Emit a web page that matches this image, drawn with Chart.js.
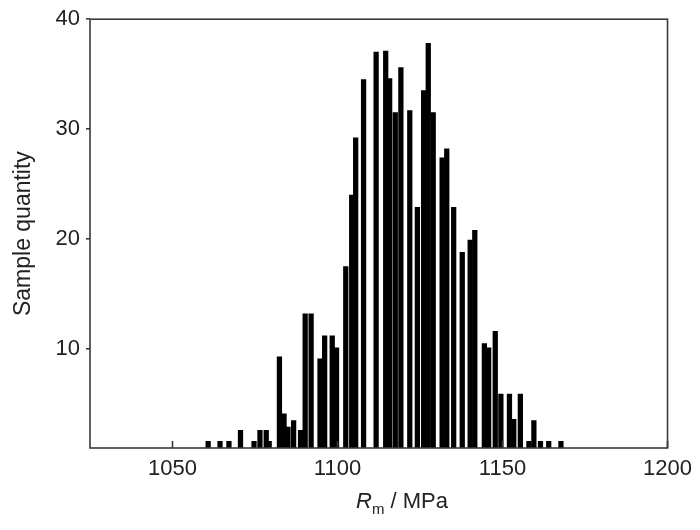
<!DOCTYPE html>
<html>
<head>
<meta charset="utf-8">
<script src="https://cdn.jsdelivr.net/npm/chart.js@4.4.1/dist/chart.umd.min.js"></script>
<style>
html,body{margin:0;padding:0;background:#fff;}
#wrap{width:700px;height:530px;}
</style>
</head>
<body>
<div id="wrap"><canvas id="c" width="700" height="530"></canvas></div>
<script>
// Rm values (MPa) at which bars are drawn
const rmValues = [1060.8,1064.4,1067.1,1070.6,1074.7,1076.5,1078.4,1079.3,1082.4,1083.8,1085.0,1086.7,1088.8,
  1090.2,1092.0,1094.7,1096.1,1098.4,1099.7,1102.5,1104.3,1105.5,1107.9,1111.7,1114.6,1115.8,1117.5,1119.2,
  1121.9,1124.2,1126.1,1127.5,1129.0,1131.7,1133.1,1135.2,1137.8,1140.2,1141.6,1144.5,1145.8,1147.8,1149.5,
  1152.1,1153.4,1155.4,1158.0,1159.5,1161.5,1164.0,1167.7];
// sample quantity for each bar
const sampleCounts = [1.6,1.6,1.6,2.6,1.6,2.6,2.6,1.6,9.3,4.1,2.9,3.5,2.6,
  13.2,13.2,9.1,11.2,11.2,10.1,17.5,24.0,29.2,34.5,37.0,37.1,34.6,31.5,35.6,
  31.7,22.9,33.5,37.8,31.5,27.4,28.2,22.9,18.8,19.9,20.8,10.5,10.1,11.6,5.9,
  5.9,3.6,5.9,1.6,3.5,1.6,1.6,1.6];
const xTicks = [1050,1100,1150,1200];
const yTicks = [10,20,30,40];

const FONT = '"Liberation Sans", Arial, sans-serif';
const INK = '#222';
const AXIS = '#3a3a3a';

const framePlugin = {
  id: 'frame',
  afterDatasetsDraw(chart) {
    const {ctx, chartArea: a, scales} = chart;
    ctx.save();
    ctx.strokeStyle = AXIS;
    ctx.lineWidth = 1.6;
    ctx.beginPath();
    scales.x.ticks.forEach(t => {
      const px = scales.x.getPixelForValue(t.value);
      ctx.moveTo(px, a.bottom);
      ctx.lineTo(px, a.bottom - 7);
    });
    ctx.stroke();
    ctx.strokeRect(a.left, a.top, a.right - a.left, a.bottom - a.top);
    ctx.restore();
  },
  afterDraw(chart) {
    const {ctx} = chart;
    ctx.save();
    ctx.fillStyle = INK;
    ctx.textBaseline = 'alphabetic';
    const big = '22px ' + FONT, bigI = 'italic 22px ' + FONT, small = '15px ' + FONT;
    ctx.font = bigI; const wR = ctx.measureText('R').width;
    ctx.font = small; const wm = ctx.measureText('m').width;
    ctx.font = big; const wRest = ctx.measureText(' / MPa').width;
    const total = wR + wm + wRest;
    let x = 402 - total / 2;
    const base = 508;
    ctx.font = bigI; ctx.fillText('R', x, base); x += wR;
    ctx.font = small; ctx.fillText('m', x, base + 6); x += wm;
    ctx.font = big; ctx.fillText(' / MPa', x, base);
    ctx.restore();
  }
};

new Chart(document.getElementById('c'), {
  type: 'bar',
  data: {
    datasets: [{
      data: rmValues.map((v, i) => ({x: v, y: sampleCounts[i]})),
      backgroundColor: '#000',
      borderWidth: 0,
      barThickness: 4.6,
      grouped: false
    }]
  },
  options: {
    responsive: false,
    animation: false,
    events: [],
    plugins: {legend: {display: false}, tooltip: {enabled: false}},
    layout: {padding: {top: 10, right: 32, bottom: 0, left: 0}},
    scales: {
      x: {
        type: 'linear',
        offset: false,
        min: 1025, max: 1200,
        afterBuildTicks: s => { s.ticks = xTicks.map(v => ({value: v})); },
        afterFit: s => { s.height = 82; },
        grid: {display: true, offset: false, drawOnChartArea: false, drawTicks: false},
        border: {display: false},
        ticks: {color: INK, font: {family: FONT, size: 22}, padding: 8, maxRotation: 0,
          callback: v => String(v)}
      },
      y: {
        min: 1, max: 40,
        afterBuildTicks: s => { s.ticks = yTicks.map(v => ({value: v})); },
        afterFit: s => { s.width = 90; },
        grid: {drawOnChartArea: false, tickLength: 4, color: AXIS, lineWidth: 1.6},
        border: {display: false},
        ticks: {color: INK, font: {family: FONT, size: 22}, padding: 6},
        title: {display: true, text: 'Sample quantity', color: INK, font: {family: FONT, size: 23}, padding: {top: 10, bottom: 0}}
      }
    }
  },
  plugins: [framePlugin]
});
</script>
</body>
</html>
